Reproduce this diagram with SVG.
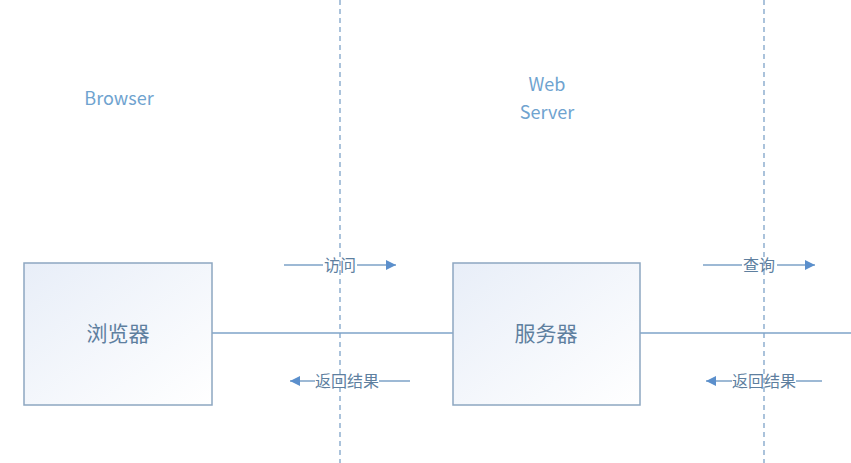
<svg xmlns="http://www.w3.org/2000/svg" width="851" height="463" viewBox="0 0 851 463">
<style>
.lbl{font-family:"Noto Sans CJK SC","Noto Sans",sans-serif;font-size:18px;fill:#6fa3cf;text-anchor:middle}
.node{fill:url(#g);stroke:#8da7c1;stroke-width:1.5}
.nt{font-family:"Noto Sans CJK SC",sans-serif;font-size:21px;fill:#5e7f9f;text-anchor:middle}
.al{font-family:"Noto Sans CJK SC",sans-serif;font-size:16px;fill:#5e7f9f;text-anchor:middle}
.ln{stroke:#7ea3c8;stroke-width:1.3;fill:none}
.dash{stroke:#7ea3c8;stroke-width:1.3;stroke-dasharray:5,4}
</style>
<defs>
<linearGradient id="g" x1="0" y1="0" x2="1" y2="1"><stop offset="0" stop-color="#e8eef8"/><stop offset="1" stop-color="#ffffff"/></linearGradient>
<marker id="a" viewBox="0 0 10 10" refX="10" refY="5" markerWidth="10" markerHeight="10" markerUnits="userSpaceOnUse" orient="auto"><path d="M0,0L10,5L0,10z" fill="#5b8fcc"/></marker>
</defs>
<text class="lbl" x="119" y="105">Browser</text>
<text class="lbl" x="547" y="91">Web</text>
<text class="lbl" x="547" y="119">Server</text>
<g id="connectors">
<line class="dash" x1="340" y1="0" x2="340" y2="463"/>
<line class="dash" x1="764" y1="0" x2="764" y2="463"/>
<line class="ln" x1="212" y1="333" x2="453" y2="333"/>
<line class="ln" x1="640" y1="333" x2="851" y2="333"/>
<path class="ln" d="M284,265H323M357,265H396" marker-end="url(#a)"/>
<path class="ln" d="M410,381H379M315,381H290" marker-end="url(#a)"/>
<path class="ln" d="M703,265H742M777,265H815" marker-end="url(#a)"/>
<path class="ln" d="M822,381H796M732,381H706" marker-end="url(#a)"/>
<text class="al" x="340" y="271">访问</text>
<text class="al" x="347" y="387">返回结果</text>
<text class="al" x="759" y="271">查询</text>
<text class="al" x="764" y="387">返回结果</text>
</g>
<g id="browser"><rect class="node" x="24" y="263" width="188" height="142"/><text class="nt" x="118" y="341">浏览器</text></g>
<g id="server"><rect class="node" x="453" y="263" width="187" height="142"/><text class="nt" x="546" y="341">服务器</text></g>
</svg>
